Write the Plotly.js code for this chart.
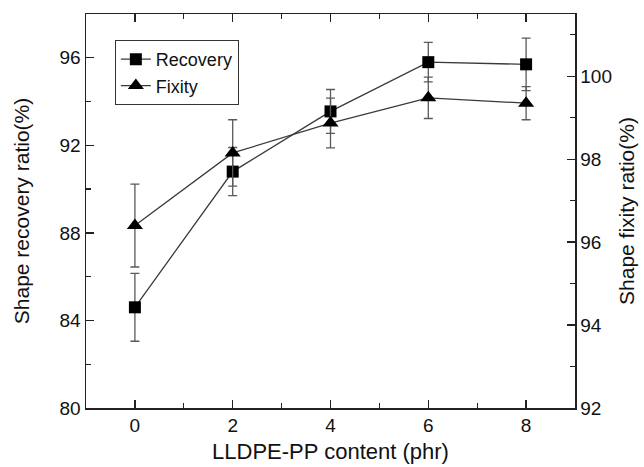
<!DOCTYPE html>
<html>
<head>
<meta charset="utf-8">
<script src="https://cdn.plot.ly/plotly-3.0.1.min.js"></script>
<style>html,body{margin:0;padding:0;background:#fff;}#chart{width:644px;height:467px;}</style>
</head>
<body>
<div id="chart"></div>
<script>
const content = [0, 2, 4, 6, 8];
const recovery = [84.6, 90.8, 93.55, 95.8, 95.7];
const recoveryErr = [1.55, 1.1, 1.0, 0.9, 1.2];
const fixity = [96.4, 98.15, 98.87, 99.48, 99.35];
const fixityErr = [1.0, 0.8, 0.6, 0.5, 0.4];

const FONT = 'Liberation Sans, Arial, sans-serif';
const lineColor = '#3a3a3a';
const errColor = '#5a5a5a';

const traces = [
  {
    x: content, y: recovery, name: 'Recovery', type: 'scatter', mode: 'lines+markers',
    line: {color: lineColor, width: 1.3},
    marker: {symbol: 'square', size: 12, color: '#000'},
    error_y: {type: 'data', array: recoveryErr, visible: true, color: errColor, thickness: 1.3, width: 4.5},
    yaxis: 'y'
  },
  {
    x: content, y: fixity, name: 'Fixity', type: 'scatter', mode: 'lines+markers',
    line: {color: lineColor, width: 1.3},
    marker: {symbol: 'triangle-up', size: 14, color: '#000'},
    error_y: {type: 'data', array: fixityErr, visible: true, color: errColor, thickness: 1.3, width: 4.5},
    yaxis: 'y2'
  }
];

const layout = {
  width: 644, height: 467,
  margin: {l: 86, r: 69, t: 14, b: 59},
  paper_bgcolor: '#fff', plot_bgcolor: '#fff',
  font: {family: FONT, size: 19, color: '#111'},
  showlegend: true,
  legend: {
    x: 0.059, y: 0.934, xanchor: 'left', yanchor: 'top',
    bordercolor: '#333', borderwidth: 1, bgcolor: '#fff',
    font: {family: FONT, size: 18, color: '#111'},
    tracegroupgap: 0, itemwidth: 30
  },
  xaxis: {
    range: [-1, 9], tickvals: [0, 2, 4, 6, 8], ticktext: ['0', '2', '4', '6', '8'],
    ticks: 'inside', ticklen: 8, tickwidth: 1.3, tickcolor: '#222',
    minor: {tickvals: [-1, 1, 3, 5, 7, 9], ticks: 'inside', ticklen: 5, tickwidth: 1.3, tickcolor: '#222'},
    showline: true, linecolor: '#222', linewidth: 1.5, mirror: 'ticks',
    showgrid: false, zeroline: false, tickfont: {size: 19},
    title: {text: 'LLDPE-PP content (phr)', font: {family: FONT, size: 22, color: '#111'}, standoff: 8}
  },
  yaxis: {
    range: [80, 98], tickvals: [80, 84, 88, 92, 96],
    ticks: 'inside', ticklen: 8, tickwidth: 1.3, tickcolor: '#222',
    minor: {tickvals: [82, 86, 90, 94], ticks: 'inside', ticklen: 5, tickwidth: 1.3, tickcolor: '#222'},
    showline: true, linecolor: '#222', linewidth: 1.5, mirror: false,
    showgrid: false, zeroline: false, tickfont: {size: 19},
    title: {text: 'Shape recovery ratio(%)', font: {family: FONT, size: 21, color: '#111'}, standoff: 24}
  },
  yaxis2: {
    range: [92, 101.5], tickvals: [92, 94, 96, 98, 100], overlaying: 'y', side: 'right',
    ticks: 'inside', ticklen: 8, tickwidth: 1.3, tickcolor: '#222',
    minor: {tickvals: [93, 95, 97, 99, 101], ticks: 'inside', ticklen: 5, tickwidth: 1.3, tickcolor: '#222'},
    showline: true, linecolor: '#222', linewidth: 1.5,
    showgrid: false, zeroline: false, tickfont: {size: 19},
    title: {text: 'Shape fixity ratio(%)', font: {family: FONT, size: 21, color: '#111'}, standoff: 8}
  }
};

Plotly.newPlot('chart', traces, layout, {displayModeBar: false, staticPlot: true});
</script>
</body>
</html>
